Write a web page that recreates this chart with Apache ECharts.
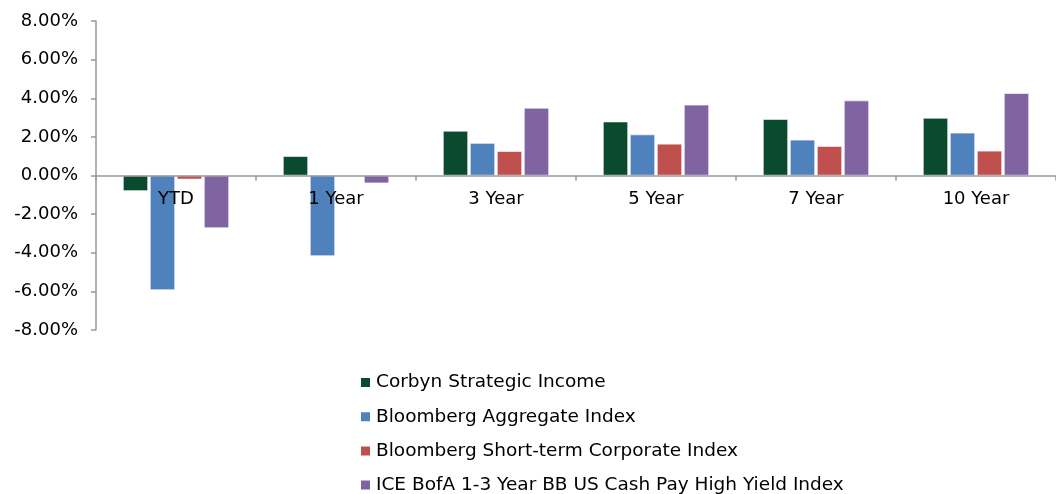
<!DOCTYPE html>
<html style="height: 100%">

<head>
  <meta charset="utf-8">
</head>

<body style="height: 100%; margin: 0; background: #fff">
  <div id="container" style="width: 1056px; height: 494px"></div>
  <script type="text/javascript" src="https://cdn.jsdelivr.net/npm/echarts@6/dist/echarts.min.js"></script>
  <script type="text/javascript">
  var periods = ['YTD', '1 Year', '3 Year', '5 Year', '7 Year', '10 Year'];

  var seriesNames = [
    'Corbyn Strategic Income',
    'Bloomberg Aggregate Index',
    'Bloomberg Short-term Corporate Index',
    'ICE BofA 1-3 Year BB US Cash Pay High Yield Index'
  ];

  var corbyn = [-0.80, 1.00, 2.31, 2.79, 2.92, 2.98];
  var bbgAggregate = [-5.93, -4.17, 1.68, 2.12, 1.85, 2.21];
  var bbgShortCorp = [-0.20, 0.00, 1.26, 1.64, 1.52, 1.28];
  var iceHighYield = [-2.72, -0.40, 3.50, 3.66, 3.88, 4.26];

  var colors = ['#0a4a2f', '#4f81bd', '#c0504d', '#8064a2'];
  var font = 'DejaVu Sans';

  var dom = document.getElementById('container');
  var myChart = echarts.init(dom);

  function bar(name, data) {
    return {
      name: name,
      type: 'bar',
      data: data,
      barWidth: 25,
      barGap: '8%',
      itemStyle: { borderColor: '#ffffff', borderWidth: 0.6 }
    };
  }

  // grid is 309px tall from -8% to 8%, so the zero line sits 154.5px above the bottom
  var option = {
    animation: false,
    color: colors,
    textStyle: { fontFamily: font },
    grid: { left: 96, right: -9, top: 21, bottom: 164 },
    legend: {
      orient: 'vertical',
      left: 359,
      top: 373,
      height: 150,
      padding: 0,
      itemWidth: 11,
      itemHeight: 11,
      itemGap: 15.2,
      icon: 'rect',
      textStyle: { fontFamily: font, fontSize: 18.5, color: '#000' },
      data: seriesNames
    },
    xAxis: {
      type: 'category',
      data: periods,
      offset: -154.5,
      z: 5,
      axisLine: { onZero: false, lineStyle: { color: '#999', width: 1.5 } },
      axisTick: { show: true, length: 5, lineStyle: { color: '#999', width: 1.5 } },
      axisLabel: { color: '#000', fontSize: 18, fontFamily: font, margin: 15 }
    },
    yAxis: {
      type: 'value',
      min: -8,
      max: 8,
      interval: 2,
      splitLine: { show: false },
      axisLine: { show: true, lineStyle: { color: '#999', width: 1.5 } },
      axisTick: { show: true, length: 5, lineStyle: { color: '#999', width: 1.5 } },
      axisLabel: {
        color: '#000',
        fontSize: 18,
        fontFamily: font,
        margin: 18,
        formatter: function (v) { return v.toFixed(2) + '%'; }
      }
    },
    series: [
      bar(seriesNames[0], corbyn),
      bar(seriesNames[1], bbgAggregate),
      bar(seriesNames[2], bbgShortCorp),
      bar(seriesNames[3], iceHighYield)
    ]
  };

  myChart.setOption(option);
  </script>
</body>

</html>
